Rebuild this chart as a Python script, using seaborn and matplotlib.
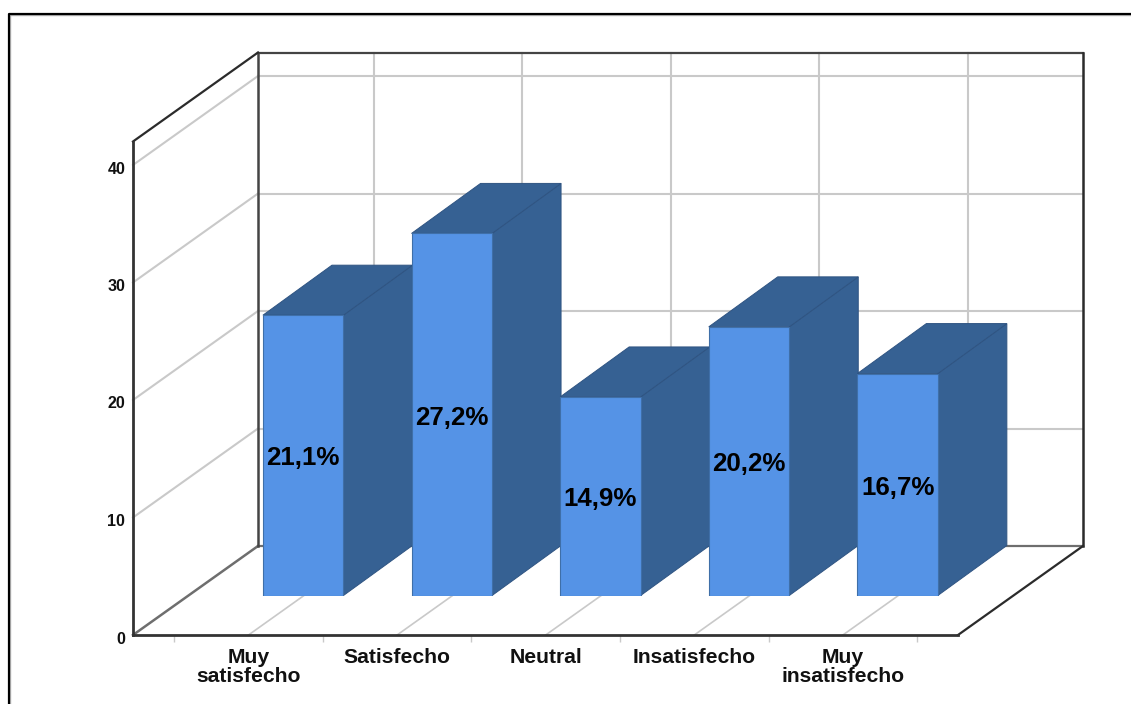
import matplotlib
matplotlib.use("Agg")
import matplotlib.pyplot as plt
from matplotlib.lines import Line2D
from matplotlib.patches import Polygon
from matplotlib.transforms import ScaledTranslation
import pandas as pd
import seaborn as sns

# Survey responses per satisfaction level
categories = ["Muy\nsatisfecho", "Satisfecho", "Neutral", "Insatisfecho", "Muy\ninsatisfecho"]
counts = [24, 31, 17, 23, 19]
value_ticks = [0, 10, 20, 30, 40]

FIG_W, FIG_H = 1131, 704
FRONT_COLOR = "#5593E6"
DEPTH_COLOR = "#366193"
EDGE_COLOR = "#3F6FA8"
GRID_COLOR = "#C9C9C9"
FRAME_COLOR = "#2B2B2B"

sns.set_theme(style="white")
plt.rcParams["font.family"] = ["Liberation Sans", "DejaVu Sans"]

fig = plt.figure(figsize=(FIG_W / 100, FIG_H / 100), dpi=100, facecolor="white")


def place(left, bottom_row, width, height):
    """Axes rectangle from pixel measures, with rows counted from the top."""
    return [left / FIG_W, 1 - bottom_row / FIG_H, width / FIG_W, height / FIG_H]


# Front plane of the box: carries the value and category axes
CAT_PX, VAL_PX = 148.6, 11.75
LEFT_PX, RIGHT_PX, BASE_ROW = 133.0, 958.0, 635.0
VAL_TOP = 42.0
x0 = (LEFT_PX - 248.5) / CAT_PX
x1 = (RIGHT_PX - 248.5) / CAT_PX
front = fig.add_axes(place(LEFT_PX, BASE_ROW, RIGHT_PX - LEFT_PX, VAL_TOP * VAL_PX))
front.set_xlim(x0, x1)
front.set_ylim(0, VAL_TOP)
front.patch.set_visible(False)

# Oblique projection of the box depth, in front-plane data units
box_dx = 125 / CAT_PX
box_dy = 89 / VAL_PX


def box_line(xs, ys, color, lw, z=1.0):
    front.add_line(Line2D(xs, ys, color=color, lw=lw, clip_on=False, zorder=z,
                          solid_capstyle="projecting"))


for v in value_ticks[1:]:
    box_line([x0, x0 + box_dx], [v, v + box_dy], GRID_COLOR, 1.5)
    box_line([x0 + box_dx, x1 + box_dx], [v + box_dy, v + box_dy], GRID_COLOR, 1.5)
for i in range(len(categories)):
    box_line([i, i + box_dx], [0, box_dy], GRID_COLOR, 1.2)
    box_line([i + box_dx, i + box_dx], [box_dy, VAL_TOP + box_dy], GRID_COLOR, 1.5)

box_line([x0, x0 + box_dx], [0, box_dy], "#6E6E6E", 1.8, 1.2)
box_line([x0 + box_dx, x1 + box_dx], [box_dy, box_dy], "#6E6E6E", 1.6, 1.2)
box_line([x0 + box_dx, x0 + box_dx], [box_dy, VAL_TOP + box_dy], "#444444", 1.8, 1.2)
box_line([x0 + box_dx, x1 + box_dx], [VAL_TOP + box_dy, VAL_TOP + box_dy], "#444444", 1.6, 1.2)
box_line([x1 + box_dx, x1 + box_dx], [box_dy, VAL_TOP + box_dy], FRAME_COLOR, 1.8, 1.2)
box_line([x0, x0 + box_dx], [VAL_TOP, VAL_TOP + box_dy], FRAME_COLOR, 1.6, 1.2)
box_line([x1, x1 + box_dx], [0, box_dy], FRAME_COLOR, 1.6, 1.2)

sns.despine(ax=front, top=True, right=True)
for side in ("left", "bottom"):
    front.spines[side].set_color("#333333")
    front.spines[side].set_linewidth(2.0)

front.set_yticks(value_ticks)
front.set_yticklabels([str(v) for v in value_ticks], fontsize=11.5, fontweight="bold", color="#111111")
front.tick_params(axis="y", length=0, pad=5.5)
for lab in front.get_yticklabels():
    lab.set_transform(lab.get_transform() + ScaledTranslation(0, -2.5 / 100, fig.dpi_scale_trans))
front.set_xticks(range(len(categories)))
front.set_xticklabels(categories, fontsize=15.2, fontweight="bold", color="#111111", linespacing=1.02)
front.tick_params(axis="x", which="major", length=0, pad=9.5)
front.set_xticks([i - 0.5 for i in range(len(categories) + 1)], minor=True)
front.tick_params(axis="x", which="minor", length=5, width=1, color=GRID_COLOR, bottom=True)

# Bars stand on a plane part of the way into the box
BAR_VAL_PX = 11.68
SHIFT_X, SHIFT_Y = 54.7, 40.0
bars_ax = fig.add_axes(place(LEFT_PX + SHIFT_X, BASE_ROW - SHIFT_Y + 0.5,
                             RIGHT_PX - LEFT_PX, VAL_TOP * BAR_VAL_PX))
bars_ax.patch.set_visible(False)
table = pd.DataFrame({"categoria": categories, "recuento": counts})
sns.barplot(data=table, x="categoria", y="recuento", color=FRONT_COLOR, saturation=1,
            width=80.5 / CAT_PX, edgecolor=EDGE_COLOR, linewidth=0.8, ax=bars_ax)
bars_ax.set_xlim(x0, x1)
bars_ax.set_ylim(0, VAL_TOP)
bars_ax.axis("off")

# Side and top faces of each bar, drawn from the bar that seaborn placed
bar_dx, bar_dy = 69 / CAT_PX, 50 / BAR_VAL_PX
for i, bar in enumerate(bars_ax.patches):
    left, w, h = bar.get_x(), bar.get_width(), bar.get_height()
    right = left + w
    bar.set_zorder(3 + 2 * i)
    side = [(right, 0), (right + bar_dx, bar_dy), (right + bar_dx, h + bar_dy), (right, h)]
    top = [(left, h), (left + bar_dx, h + bar_dy), (right + bar_dx, h + bar_dy), (right, h)]
    for face in (side, top):
        bars_ax.add_patch(Polygon(face, closed=True, facecolor=DEPTH_COLOR, edgecolor="#2F5482",
                                  linewidth=0.7, clip_on=False, zorder=2 + 2 * i))

total = sum(counts)
share_labels = [f"{100 * c / total:.1f}%".replace(".", ",") for c in counts]
labels = bars_ax.bar_label(bars_ax.containers[0], labels=share_labels, label_type="center",
                           fontsize=18.6, fontweight="bold", color="black")
for text in labels:
    text.set_zorder(20)
    text.xyann = (0, -2.2)

# Thin frame around the chart area, with its soft inner shade
for offset, shade, width in ((1.3, "#B5B5B5", 1.0), (0.0, "black", 1.6)):
    xs, ys = [8.5 + offset, 8.5 + offset, FIG_W], [FIG_H, 14 + offset, 14 + offset]
    fig.add_artist(Line2D([x / FIG_W for x in xs], [1 - y / FIG_H for y in ys],
                          color=shade, lw=width, transform=fig.transFigure))

fig.savefig("out.png", dpi=100, facecolor="white")
